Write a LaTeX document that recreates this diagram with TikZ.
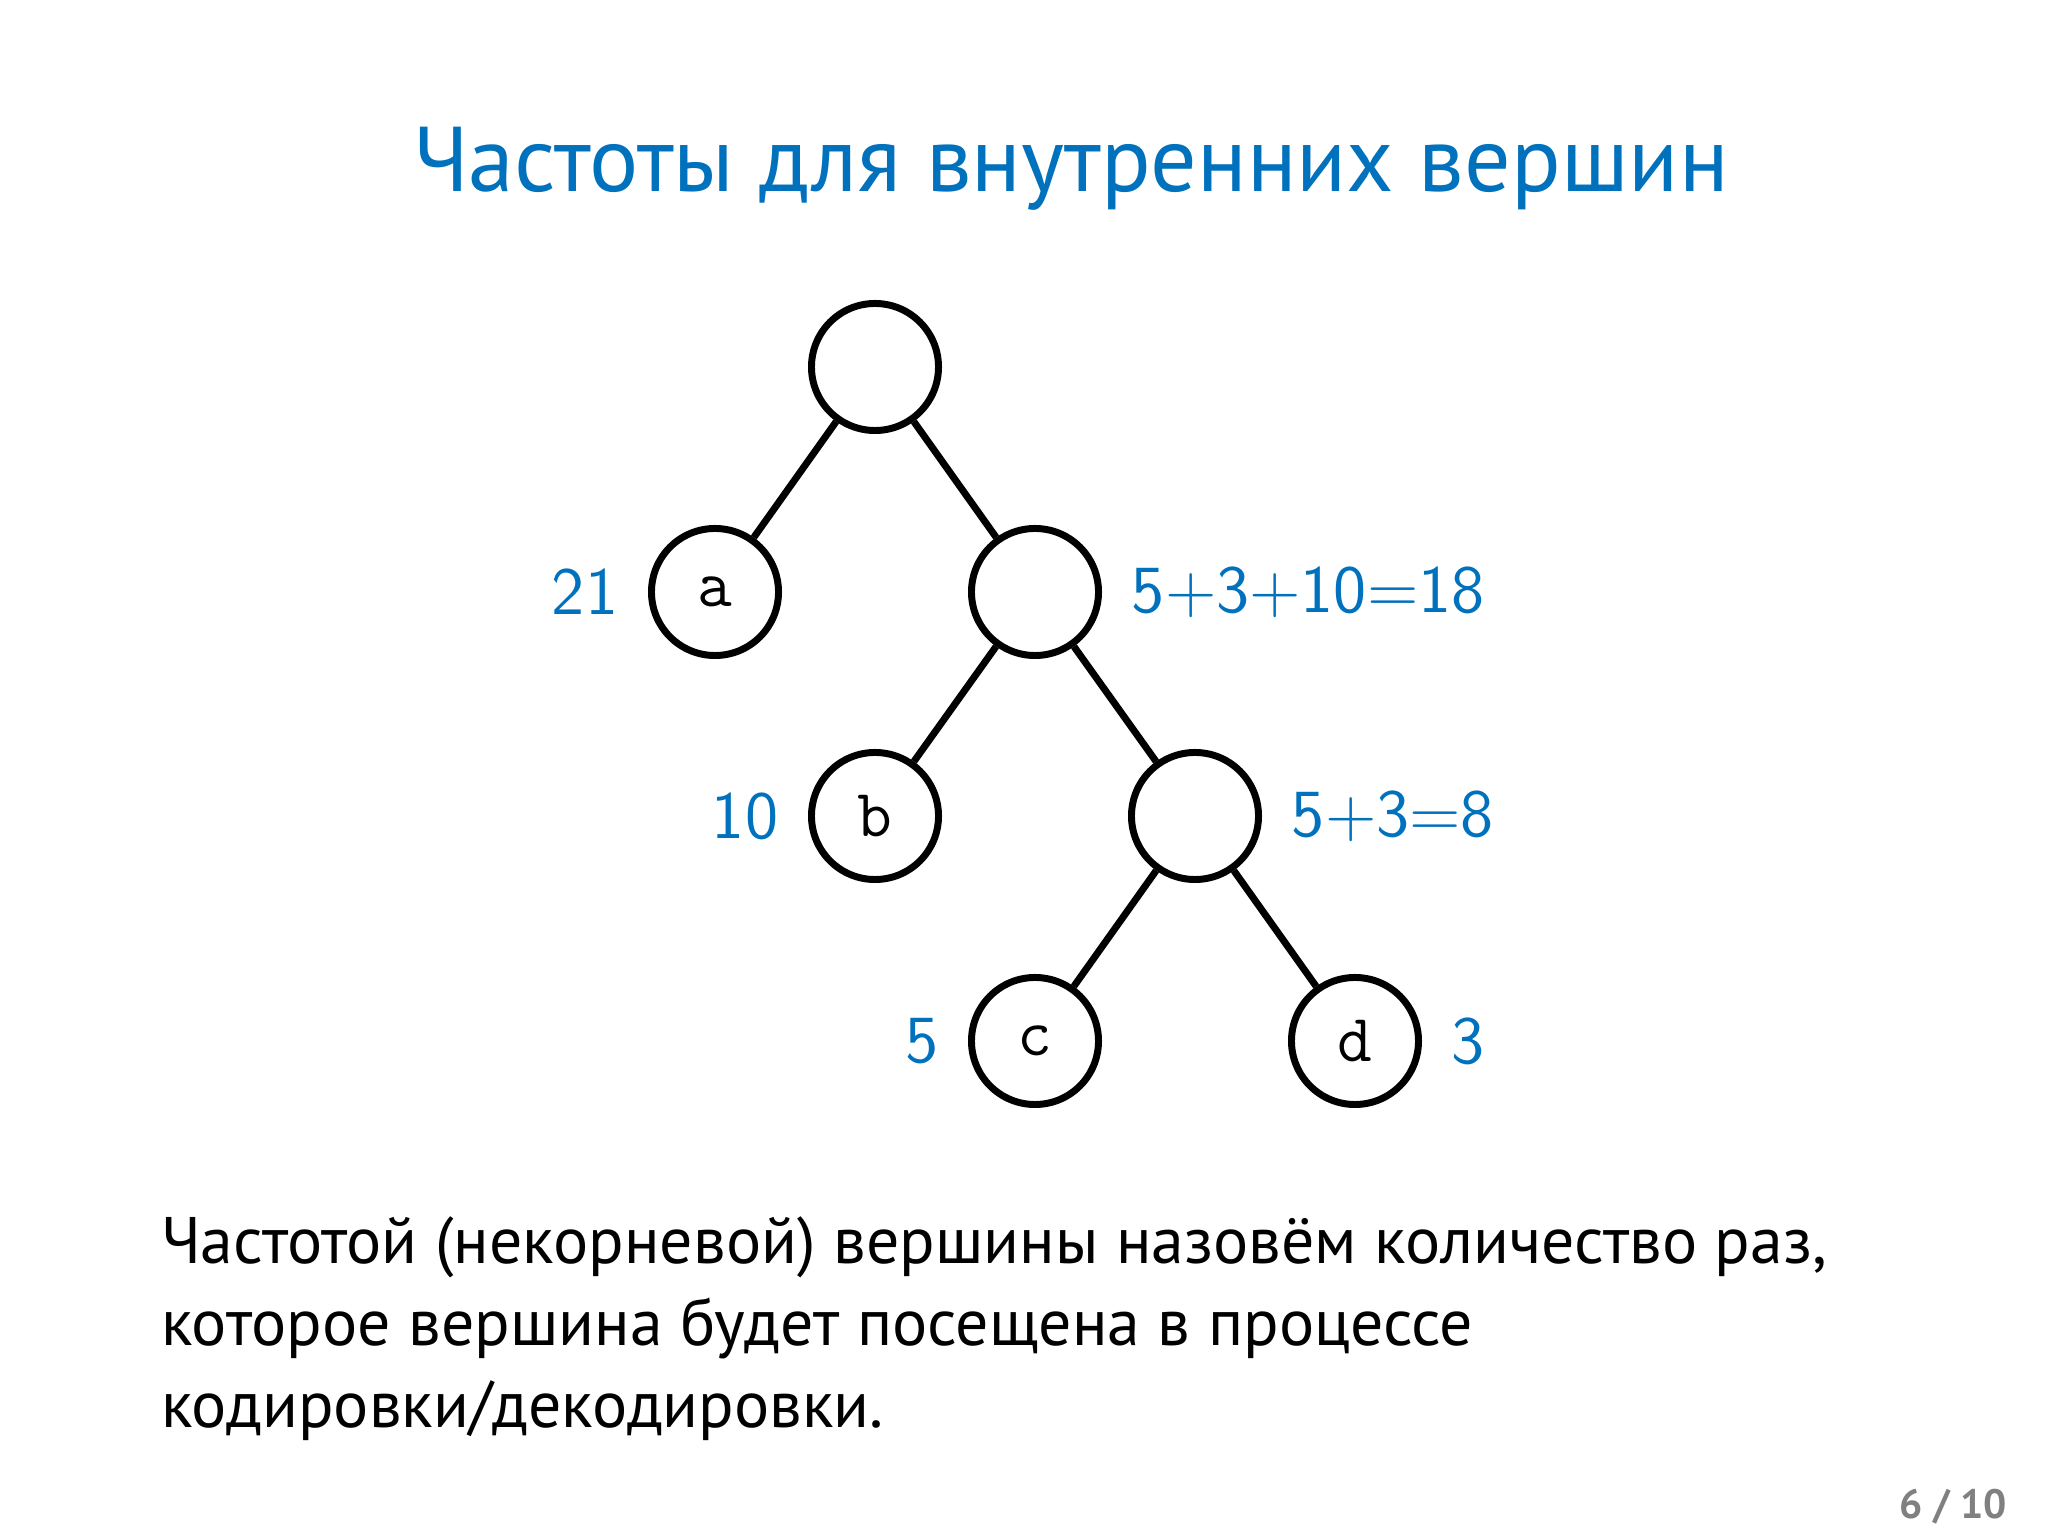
\documentclass[tikz,border=0pt]{standalone}
\usepackage{fontspec}
\setmainfont{PT Sans}
\setmonofont{Latin Modern Mono}
\newfontfamily\lmss{lmsans12-regular.otf}
\definecolor{tblue}{RGB}{0,113,188}
\definecolor{pgray}{RGB}{128,128,128}
\begin{document}
\begin{tikzpicture}[x=0.0625mm,y=-0.0625mm,
  vert/.style={circle,draw=black,line width=1.24pt,minimum size=7.94mm,inner sep=0pt,font=\fontsize{12}{14}\selectfont\ttfamily},
  edge/.style={line width=1.24pt},
  freq/.style={text=tblue,inner sep=0pt,font=\fontsize{12}{14}\selectfont\lmss},
  bodytext/.style={anchor=base west,inner sep=0pt,font=\fontsize{11.7}{14}\selectfont}]
\useasboundingbox[fill=white] (0,0) rectangle (2048,1539);
% title
\node[anchor=base west,inner sep=0pt,text=tblue,font=\fontsize{16.35}{20}\selectfont] (title) at (412,192) {Частоты для внутренних вершин};
% tree
\node[vert] (r) at (875,367) {};
\node[vert] (a) at (715,592) {a};
\node[vert] (n1) at (1035,592) {};
\node[vert] (b) at (875,816) {b};
\node[vert] (n2) at (1195,816) {};
\node[vert] (c) at (1035,1041) {c};
\node[vert] (d) at (1355,1041) {d};
\draw[edge] (r) -- (a);
\draw[edge] (r) -- (n1);
\draw[edge] (n1) -- (b);
\draw[edge] (n1) -- (n2);
\draw[edge] (n2) -- (c);
\draw[edge] (n2) -- (d);
% frequencies
\node[freq,anchor=east] (fa) at ([xshift=-1.8mm]a.west) {21};
\node[freq,anchor=west] (fn1) at ([xshift=1.8mm]n1.east) {5+3+10=18};
\node[freq,anchor=east] (fb) at ([xshift=-1.8mm]b.west) {10};
\node[freq,anchor=west] (fn2) at ([xshift=1.8mm]n2.east) {5+3=8};
\node[freq,anchor=east] (fc) at ([xshift=-1.8mm]c.west) {5};
\node[freq,anchor=west] (fd) at ([xshift=1.8mm]d.east) {3};
% body
\node[bodytext] (l1) at (160,1264) {Частотой (некорневой) вершины назовём количество раз,};
\node[bodytext] (l2) at (160,1346) {которое вершина будет посещена в процессе};
\node[bodytext] (l3) at (160,1428) {кодировки/декодировки.};
% page number
\node[anchor=base east,inner sep=0pt,text=pgray,font=\fontsize{7.3}{9}\selectfont\bfseries] (pg) at (2008,1519) {6 / 10};
\end{tikzpicture}
\end{document}
